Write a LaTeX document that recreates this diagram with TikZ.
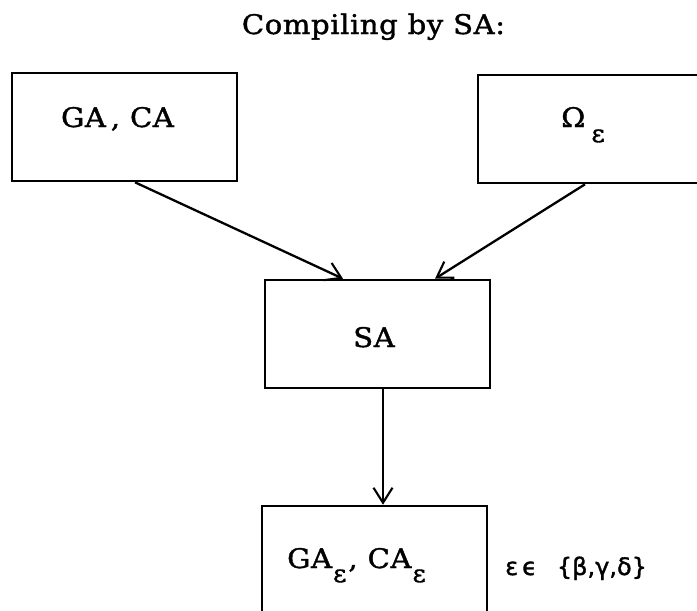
\documentclass[tikz,border=0pt]{standalone}
\usepackage{fontspec}
\setmainfont[FakeStretch=1.08,LetterSpace=2,FakeBold=1.4]{DejaVu Serif}
\newfontfamily\greekfont[FakeBold=1.4]{DejaVu Sans}
\usetikzlibrary{arrows.meta}
\newcommand{\subeps}[1][-15pt]{\raisebox{#1}{\fontsize{24}{28}\selectfont ε}}
\begin{document}
\begin{tikzpicture}[x=1pt,y=-1pt,
  box/.style={draw,line width=2.6pt,minimum width=225pt,minimum height=108pt,inner sep=0pt},
  txt/.style={font=\fontsize{27}{32}\selectfont,inner sep=0pt},
  link/.style={line width=2.3pt,-{Straight Barb[length=15pt,width=19pt,line width=2.1pt]}}]
\useasboundingbox (0,0) rectangle (697,611);
\clip (0,0) rectangle (697,611);
% boxes
\node[box] (gaca) at (124.5,127) {};
\node[box] (omega) at (590.5,129) {};
\node[box] (sa) at (377.5,334) {};
\node[box] (out) at (374.5,560) {};
% texts
\node[txt,anchor=base] (title) at (373.5,34) {Compiling by SA:};
\node[txt,anchor=base] (t1) at (117.5,127) {GA\hspace{5pt}, CA};
\node[txt,anchor=base west] (t2) at (561,127) {Ω\hspace{6pt}\subeps};
\node[txt,anchor=base] (t3) at (374,347) {SA};
\node[txt,anchor=base west] (t4) at (287,568) {GA\hspace{1pt}\subeps[-14pt]\hspace{2pt}, CA\hspace{1pt}\subeps[-14pt]};
\node[inner sep=0pt,anchor=base west,font=\greekfont\fontsize{24}{28}\selectfont] (cond) at (505,575) {ε\,ϵ\hspace{20pt}\{β,γ,δ\}};
% connectors
\draw[link] ([xshift=10.5pt]gaca.south) -- ([xshift=-34.5pt]sa.north);
\draw[link] ([xshift=-5.5pt]omega.south) -- ([xshift=57.5pt]sa.north);
\draw[link] ([xshift=5.5pt]sa.south) -- ([xshift=8.5pt]out.north);
\end{tikzpicture}
\end{document}
